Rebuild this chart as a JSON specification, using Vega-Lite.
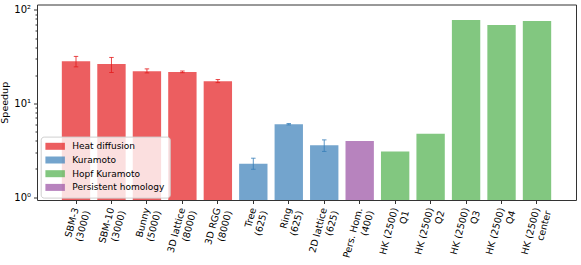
{
  "$schema": "https://vega.github.io/schema/vega-lite/v6.json",
  "autosize": {"type": "none"},
  "width": 539,
  "height": 195.5,
  "padding": {"left": 37, "top": 4.5, "right": 5, "bottom": 65},
  "background": "white",
  "config": {
    "font": "DejaVu Sans",
    "view": {"stroke": "#333333", "strokeWidth": 1},
    "axis": {"labelFont": "DejaVu Sans", "titleFont": "DejaVu Sans", "labelColor": "#000", "titleColor": "#000", "tickColor": "#333", "domain": false, "grid": false}
  },
  "data": {
    "values": [
      {"label": "SBM-3\n(3000)", "group": "Heat diffusion", "value": 28.2, "lo": 24.6, "hi": 31.8},
      {"label": "SBM-10\n(3000)", "group": "Heat diffusion", "value": 26.4, "lo": 21.4, "hi": 31.0},
      {"label": "Bunny\n(5000)", "group": "Heat diffusion", "value": 22.1, "lo": 21.2, "hi": 23.4},
      {"label": "3D lattice\n(8000)", "group": "Heat diffusion", "value": 21.7, "lo": 21.3, "hi": 22.2},
      {"label": "3D RGG\n(8000)", "group": "Heat diffusion", "value": 17.3, "lo": 16.7, "hi": 18.0},
      {"label": "Tree\n(625)", "group": "Kuramoto", "value": 2.27, "lo": 1.98, "hi": 2.6},
      {"label": "Ring\n(625)", "group": "Kuramoto", "value": 6.0, "lo": 5.9, "hi": 6.1},
      {"label": "2D lattice\n(625)", "group": "Kuramoto", "value": 3.57, "lo": 3.07, "hi": 4.08},
      {"label": "Pers. Hom.\n(400)", "group": "Persistent homology", "value": 3.98, "lo": null, "hi": null},
      {"label": "HK (2500)\nQ1", "group": "Hopf Kuramoto", "value": 3.07, "lo": null, "hi": null},
      {"label": "HK (2500)\nQ2", "group": "Hopf Kuramoto", "value": 4.75, "lo": null, "hi": null},
      {"label": "HK (2500)\nQ3", "group": "Hopf Kuramoto", "value": 77.9, "lo": null, "hi": null},
      {"label": "HK (2500)\nQ4", "group": "Hopf Kuramoto", "value": 68.9, "lo": null, "hi": null},
      {"label": "HK (2500)\ncenter", "group": "Hopf Kuramoto", "value": 75.8, "lo": null, "hi": null}
    ]
  },
  "encoding": {
    "x": {
      "field": "label", "type": "nominal", "sort": null,
      "scale": {"paddingInner": 0.2, "paddingOuter": 0.7},
      "axis": {
        "title": null, "labelAngle": -75, "labelAlign": "right", "labelBaseline": "middle",
        "labelFontSize": 9.5, "labelLineHeight": 11.5, "labelPadding": 4, "tickSize": 3.5,
        "labelLimit": 400, "labelOverlap": false,
        "labelExpr": "[split(datum.label,'\\n')[0] + slice('\u00a0\u00a0\u00a0\u00a0\u00a0\u00a0\u00a0\u00a0\u00a0\u00a0\u00a0\u00a0\u00a0\u00a0\u00a0\u00a0', 0, max(0, round(((6.3*length(split(datum.label,'\\n')[1]) - 2.9*length(replace(split(datum.label,'\\n')[1], regexp('[^ ().iltrf-]','g'), '')) + 1.3*length(replace(split(datum.label,'\\n')[1], regexp('[^MHQKD]','g'), ''))) - (6.3*length(split(datum.label,'\\n')[0]) - 2.9*length(replace(split(datum.label,'\\n')[0], regexp('[^ ().iltrf-]','g'), '')) + 1.3*length(replace(split(datum.label,'\\n')[0], regexp('[^MHQKD]','g'), ''))))/6.36))), split(datum.label,'\\n')[1] + slice('\u00a0\u00a0\u00a0\u00a0\u00a0\u00a0\u00a0\u00a0\u00a0\u00a0\u00a0\u00a0\u00a0\u00a0\u00a0\u00a0', 0, max(0, round(((6.3*length(split(datum.label,'\\n')[0]) - 2.9*length(replace(split(datum.label,'\\n')[0], regexp('[^ ().iltrf-]','g'), '')) + 1.3*length(replace(split(datum.label,'\\n')[0], regexp('[^MHQKD]','g'), ''))) - (6.3*length(split(datum.label,'\\n')[1]) - 2.9*length(replace(split(datum.label,'\\n')[1], regexp('[^ ().iltrf-]','g'), '')) + 1.3*length(replace(split(datum.label,'\\n')[1], regexp('[^MHQKD]','g'), ''))))/6.36)))]"
      }
    },
    "color": {
      "field": "group", "type": "nominal",
      "scale": {
        "domain": ["Heat diffusion", "Kuramoto", "Hopf Kuramoto", "Persistent homology"],
        "range": ["#e41a1c", "#377eb8", "#4daf4a", "#984ea3"]
      },
      "legend": {
        "title": null, "orient": "none", "legendX": 3.7, "legendY": 132.1,
        "symbolType": "M-1,-0.7H2.9V0.7H-1Z", "symbolSize": 100, "symbolStrokeWidth": 0, "symbolOpacity": 0.7,
        "labelFontSize": 9, "labelFont": "DejaVu Sans", "labelColor": "#000",
        "rowPadding": 3.7, "labelOffset": 16.9, "padding": 4.7,
        "fillColor": "rgba(255,255,255,0.8)", "strokeColor": "#d0d0d0", "cornerRadius": 3
      }
    }
  },
  "layer": [
    {
      "mark": {"type": "bar", "opacity": 0.7},
      "encoding": {
        "y": {
          "field": "value", "type": "quantitative",
          "scale": {"type": "log", "domain": [0.93, 114], "nice": false, "zero": false},
          "axis": {
            "title": "Speedup", "titleFontSize": 9.5, "titleFontWeight": "normal", "titlePadding": 4,
            "values": [1,2,3,4,5,6,7,8,9,10,20,30,40,50,60,70,80,90,100],
            "labelExpr": "datum.value == 1 ? '10⁰' : datum.value == 10 ? '10¹' : datum.value == 100 ? '10²' : ''",
            "labelFontSize": 10, "labelPadding": 3,
            "tickSize": {"condition": {"test": "datum.value == 1 || datum.value == 10 || datum.value == 100", "value": 3.5}, "value": 2}
          }
        },
        "y2": {"datum": 0.93}
      }
    },
    {
      "transform": [{"filter": "datum.lo != null"}],
      "mark": {"type": "rule", "strokeWidth": 1, "opacity": 0.8},
      "encoding": {
        "y": {"field": "lo", "type": "quantitative"},
        "y2": {"field": "hi"}
      }
    },
    {
      "transform": [{"filter": "datum.lo != null"}],
      "mark": {"type": "tick", "thickness": 1, "size": 4.5, "opacity": 0.8},
      "encoding": {
        "y": {"field": "lo", "type": "quantitative"}
      }
    },
    {
      "transform": [{"filter": "datum.lo != null"}],
      "mark": {"type": "tick", "thickness": 1, "size": 4.5, "opacity": 0.8},
      "encoding": {
        "y": {"field": "hi", "type": "quantitative"}
      }
    }
  ]
}
